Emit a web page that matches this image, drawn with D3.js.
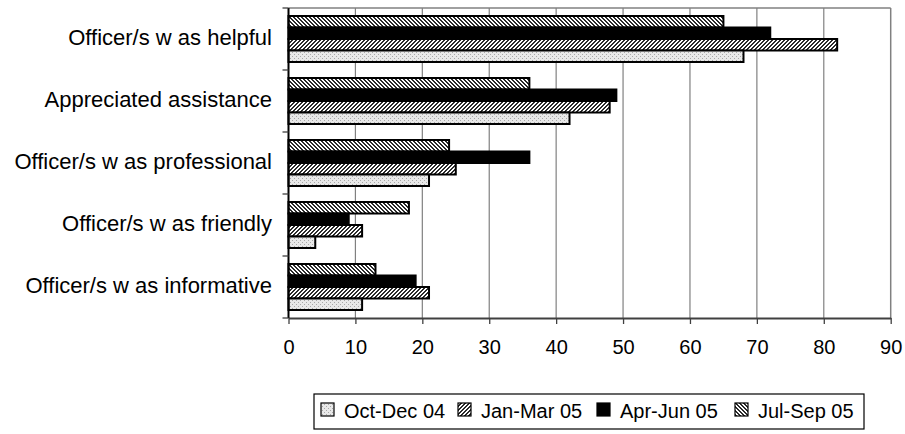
<!DOCTYPE html>
<html><head><meta charset="utf-8">
<script src="https://cdn.jsdelivr.net/npm/d3@7"></script>
<style>body{margin:0;background:#fff}svg{display:block;font-family:Arial,"Liberation Sans",sans-serif}</style>
</head><body><svg id="c" width="905" height="434"></svg>
<script>
const categories = ["Officer/s w as helpful","Appreciated assistance","Officer/s w as professional","Officer/s w as friendly","Officer/s w as informative"];
const seriesNames = ["Oct-Dec 04","Jan-Mar 05","Apr-Jun 05","Jul-Sep 05"];
const octDec04 = [68, 42, 21, 4, 11];
const janMar05 = [82, 48, 25, 11, 21];
const aprJun05 = [72, 49, 36, 9, 19];
const julSep05 = [65, 36, 24, 18, 13];
const xTicks = [0,10,20,30,40,50,60,70,80,90];

const values = [octDec04, janMar05, aprJun05, julSep05];
const svg = d3.select("#c");
const defs = svg.append("defs");
const L = 288.5, R = 890.7, T = 8, B = 318;

// pixel patterns (4x4 tiles)
function pixPat(id, bg, fg, pts){
  const p = defs.append("pattern").attr("id", id).attr("patternUnits","userSpaceOnUse").attr("width",4).attr("height",4);
  p.append("rect").attr("width",4).attr("height",4).attr("fill",bg);
  pts.forEach(([a,b])=>p.append("rect").attr("x",a).attr("y",b).attr("width",1).attr("height",1).attr("fill",fg));
}
pixPat("pOct","#e8e8e8","#a8a8a8",[[0,0],[2,2]]);
pixPat("pJan","#ffffff","#2a2a2a",[[3,0],[0,0],[2,1],[3,1],[1,2],[2,2],[0,3],[1,3]]);
pixPat("pJul","#ffffff","#2a2a2a",[[0,0],[1,0],[1,1],[2,1],[2,2],[3,2],[3,3],[0,3]]);
const fills = ["url(#pOct)","url(#pJan)","#000","url(#pJul)"];

const x = d3.scaleLinear().domain([0,90]).range([L,R]);
const y0 = d3.scaleBand().domain(categories).range([T,B]).padding(0);
const order = [3,2,1,0];
const y1 = d3.scaleBand().domain(order).range([8, y0.bandwidth()-8]).padding(0);

// plot border
svg.append("line").attr("x1",L).attr("x2",R).attr("y1",T).attr("y2",T).attr("stroke","#808080").attr("stroke-width",1.5);
svg.append("line").attr("x1",R).attr("x2",R).attr("y1",T).attr("y2",B).attr("stroke","#808080").attr("stroke-width",1.5);
// gridlines
svg.append("g").selectAll("line").data(xTicks.slice(1,-1)).join("line")
  .attr("x1",d=>x(d)).attr("x2",d=>x(d)).attr("y1",T).attr("y2",B)
  .attr("stroke","#808080").attr("stroke-width",1.2);

// bars
const g = svg.append("g");
categories.forEach((c,ci)=>{
  order.forEach(si=>{
    g.append("rect").attr("x",x(0)).attr("y",y0(c)+y1(si))
      .attr("width",x(values[si][ci])-x(0)).attr("height",y1.bandwidth())
      .attr("fill",fills[si]).attr("stroke","#000").attr("stroke-width",2);
  });
});

// x axis
const xa = svg.append("g").attr("transform",`translate(0,${B})`)
  .call(d3.axisBottom(x).tickValues(xTicks).tickSize(6).tickPadding(16).tickSizeOuter(0));
xa.select(".domain").attr("stroke","#404040").attr("stroke-width",2);
xa.selectAll(".tick line").attr("stroke","#404040").attr("stroke-width",1.3);
xa.selectAll("text").attr("font-size",20).attr("fill","#000").attr("font-family","Arial, 'Liberation Sans', sans-serif");

// y axis
svg.append("line").attr("x1",L).attr("x2",L).attr("y1",T).attr("y2",B).attr("stroke","#000").attr("stroke-width",2);
svg.append("g").selectAll("line").data(d3.range(categories.length+1)).join("line")
  .attr("x1",L-6).attr("x2",L).attr("y1",i=>T+i*y0.bandwidth()).attr("y2",i=>T+i*y0.bandwidth())
  .attr("stroke","#404040").attr("stroke-width",1.3);
svg.append("g").selectAll("text").data(categories).join("text")
  .attr("x",272).attr("y",d=>y0(d)+y0.bandwidth()/2+6)
  .attr("text-anchor","end").attr("font-size",22).attr("fill","#000").text(d=>d);

// legend
const lg = svg.append("g");
const itemX = [321, 458, 597, 735];
lg.append("rect").attr("x",314).attr("y",394).attr("width",550).attr("height",35).attr("fill","none").attr("stroke","#000").attr("stroke-width",1.2);
seriesNames.forEach((s,i)=>{
  lg.append("rect").attr("x",itemX[i]).attr("y",403).attr("width",13).attr("height",13)
    .attr("fill",fills[i]).attr("stroke","#000").attr("stroke-width",1.2);
  lg.append("text").attr("x",itemX[i]+23).attr("y",418).attr("font-size",20).attr("fill","#000").text(s);
});
</script></body></html>
